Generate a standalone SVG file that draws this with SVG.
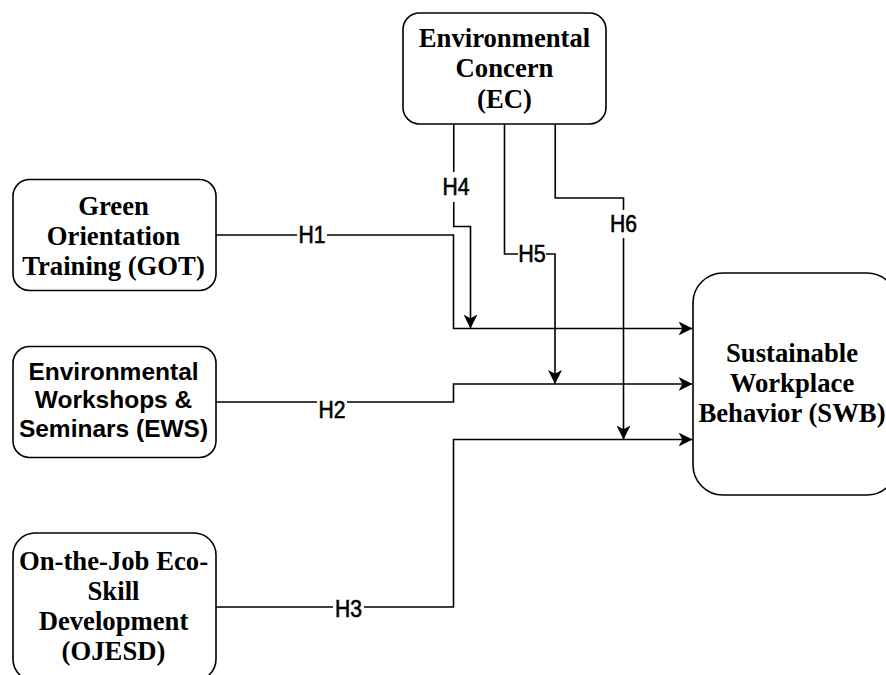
<svg xmlns="http://www.w3.org/2000/svg" width="886" height="675" viewBox="0 0 886 675">
<style>
.box{fill:#fff;stroke:#000;stroke-width:1.6}
.serif{font-family:"Liberation Serif","Times New Roman",serif;font-weight:bold;font-size:26.7px;fill:#000;text-anchor:middle}
.sans{font-family:"Liberation Sans",Arial,sans-serif;font-weight:bold;font-size:24.5px;fill:#000;text-anchor:middle}
.edge{fill:none;stroke:#000;stroke-width:1.6}
.lbl{font-family:"Liberation Sans",Arial,sans-serif;font-size:23.5px;fill:#000;stroke:#000;stroke-width:0.6;text-anchor:middle}
.bg{fill:#fff}
</style>
<defs>
<marker id="arr" markerUnits="userSpaceOnUse" markerWidth="14" markerHeight="14" viewBox="0 0 13 13" refX="12.5" refY="6.5" orient="auto">
<path d="M0,0 L13,6.5 L0,13 L3.5,6.5 Z" fill="#000"/>
</marker>
</defs>
<rect width="886" height="675" fill="#fff"/>
<g id="connectors">
<path class="edge" d="M216,235 H453.5 V328.5 H692" marker-end="url(#arr)"/>
<path class="edge" d="M216,402 H453.5 V384 H692" marker-end="url(#arr)"/>
<path class="edge" d="M216,607 H453.5 V439.5 H692" marker-end="url(#arr)"/>
<path class="edge" d="M453.75,124 V226.5 H470.5 V328" marker-end="url(#arr)"/>
<path class="edge" d="M504.5,124 V254 H555 V383.5" marker-end="url(#arr)"/>
<path class="edge" d="M555.25,124 V198 H623.5 V439" marker-end="url(#arr)"/>
<rect class="bg" x="297" y="226" width="30" height="19"/>
<text class="lbl" x="312" y="243.3" textLength="27" lengthAdjust="spacingAndGlyphs">H1</text>
<rect class="bg" x="317" y="400" width="30" height="20"/>
<text class="lbl" x="332" y="418.3" textLength="27" lengthAdjust="spacingAndGlyphs">H2</text>
<rect class="bg" x="333" y="598" width="31" height="20"/>
<text class="lbl" x="348.5" y="616.7" textLength="27" lengthAdjust="spacingAndGlyphs">H3</text>
<rect class="bg" x="441" y="172" width="30" height="30"/>
<text class="lbl" x="456" y="195" textLength="27" lengthAdjust="spacingAndGlyphs">H4</text>
<rect class="bg" x="518" y="242" width="28" height="21"/>
<text class="lbl" x="532" y="261.7" textLength="27.5" lengthAdjust="spacingAndGlyphs">H5</text>
<rect class="bg" x="609" y="210" width="29" height="28"/>
<text class="lbl" x="623.5" y="232.3" textLength="27" lengthAdjust="spacingAndGlyphs">H6</text>
</g>
<g id="EC">
<rect class="box" x="403" y="13" width="203" height="111" rx="16.5"/>
<text class="serif" x="504.5" y="46.5">Environmental</text>
<text class="serif" x="504.5" y="77">Concern</text>
<text class="serif" x="504.5" y="107.5">(EC)</text>
</g>
<g id="GOT">
<rect class="box" x="13" y="179.5" width="203" height="111" rx="16.5"/>
<text class="serif" x="113.5" y="215">Green</text>
<text class="serif" x="113.5" y="244.5">Orientation</text>
<text class="serif" x="113.5" y="274.5">Training (GOT)</text>
</g>
<g id="EWS">
<rect class="box" x="13" y="346.5" width="203" height="111" rx="16.5"/>
<text class="sans" x="113.5" y="379.5">Environmental</text>
<text class="sans" x="113.5" y="408">Workshops &amp;</text>
<text class="sans" x="113.5" y="436.5">Seminars (EWS)</text>
</g>
<g id="OJESD">
<rect class="box" x="13" y="533" width="203" height="148" rx="22"/>
<text class="serif" x="113.5" y="569.5">On-the-Job Eco-</text>
<text class="serif" x="113.5" y="599.5">Skill</text>
<text class="serif" x="113.5" y="630">Development</text>
<text class="serif" x="113.5" y="660">(OJESD)</text>
</g>
<g id="SWB">
<rect class="box" x="693" y="273" width="204" height="222" rx="30"/>
<text class="serif" x="792" y="361.7">Sustainable</text>
<text class="serif" x="792" y="391.7">Workplace</text>
<text class="serif" x="792" y="421.7">Behavior (SWB)</text>
</g>
</svg>
